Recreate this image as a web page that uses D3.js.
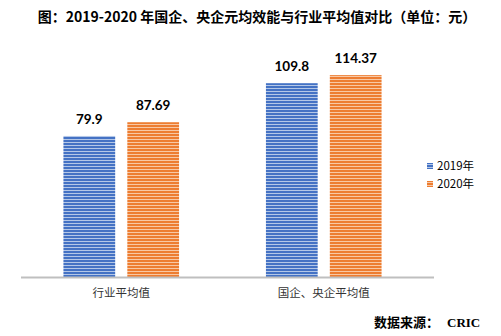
<!DOCTYPE html>
<html>
<head>
<meta charset="utf-8">
<script src="https://cdn.jsdelivr.net/npm/d3@7"></script>
<style>
  html, body { margin: 0; padding: 0; background: #fff; }
  svg { display: block; }
</style>
</head>
<body>
<svg id="chart" width="501" height="336"></svg>
<script>
// Chart data
const categories = ["行业平均值", "国企、央企平均值"];
const seriesNames = ["2019年", "2020年"];
const values2019 = [79.9, 109.8];
const values2020 = [87.69, 114.37];
const valueLabels2019 = ["79.9", "109.8"];
const valueLabels2020 = ["87.69", "114.37"];

const title = "图：2019-2020 年国企、央企元均效能与行业平均值对比（单位：元）";
const sourceLead = "数据来源：";
const sourceName = "CRIC";

const colors = {
  "2019年": { dark: "#4472c4", light: "#b4c7e7" },
  "2020年": { dark: "#ed7d31", light: "#f8c8a4" }
};

const svg = d3.select("#chart");
const defs = svg.append("defs");

// Horizontal striped fills for each series
seriesNames.forEach((s, i) => {
  const p = defs.append("pattern")
    .attr("id", "stripe" + i)
    .attr("patternUnits", "userSpaceOnUse")
    .attr("width", 6).attr("height", 3);
  p.append("rect").attr("width", 6).attr("height", 3).attr("fill", colors[s].dark);
  p.append("rect").attr("y", 1).attr("width", 6).attr("height", 1).attr("fill", colors[s].light);
});

const baseY = 277;
const y = d3.scaleLinear().domain([0, 120]).range([baseY, baseY - 120 * 1.765]);

const x0 = d3.scaleBand().domain(categories).range([20, 425]).paddingInner(0).paddingOuter(0);
const x1 = d3.scaleBand().domain(seriesNames).range([0, x0.bandwidth()]).paddingInner(0.19).paddingOuter(0.68);

const rows = categories.map((c, i) => ({
  cat: c,
  items: [
    { s: seriesNames[0], v: values2019[i], label: valueLabels2019[i] },
    { s: seriesNames[1], v: values2020[i], label: valueLabels2020[i] }
  ]
}));

// Title
svg.append("text")
  .attr("x", 257).attr("y", 22)
  .attr("text-anchor", "middle")
  .attr("font-family", "'Noto Sans CJK SC', sans-serif")
  .attr("font-weight", 700)
  .attr("font-size", 14)
  .attr("fill", "#000")
  .text(title);

// Bars
const g = svg.append("g");
const groups = g.selectAll("g.grp").data(rows).join("g")
  .attr("class", "grp")
  .attr("transform", d => `translate(${x0(d.cat)},0)`);

groups.selectAll("rect").data(d => d.items).join("rect")
  .attr("x", d => x1(d.s))
  .attr("width", x1.bandwidth())
  .attr("y", d => y(d.v))
  .attr("height", d => y(0) - y(d.v))
  .attr("fill", d => "url(#stripe" + seriesNames.indexOf(d.s) + ")");

groups.selectAll("text.val").data(d => d.items).join("text")
  .attr("class", "val")
  .attr("x", d => x1(d.s) + x1.bandwidth() / 2)
  .attr("y", d => y(d.v) - 12)
  .attr("text-anchor", "middle")
  .attr("font-family", "Lato, 'Open Sans', sans-serif")
  .attr("font-weight", 700)
  .attr("font-size", 13.5)
  .attr("fill", "#000")
  .text(d => d.label);

// Baseline axis
svg.append("line")
  .attr("x1", 21).attr("x2", 434)
  .attr("y1", baseY + 0.5).attr("y2", baseY + 0.5)
  .attr("stroke", "#bfbfbf").attr("stroke-width", 2);

// Category labels
svg.selectAll("text.cat").data(categories).join("text")
  .attr("class", "cat")
  .attr("x", d => x0(d) + x0.bandwidth() / 2)
  .attr("y", 297)
  .attr("text-anchor", "middle")
  .attr("font-family", "'Noto Sans CJK SC', sans-serif")
  .attr("font-size", 11.5)
  .attr("fill", "#333")
  .text(d => d);

// Legend
const legend = svg.append("g").attr("transform", "translate(427,160)");
seriesNames.forEach((s, i) => {
  const row = legend.append("g").attr("transform", `translate(0,${i * 18})`);
  row.append("rect").attr("width", 6).attr("height", 6).attr("y", 3)
    .attr("fill", "url(#stripe" + i + ")");
  row.append("text").attr("x", 10).attr("y", 10)
    .attr("font-family", "'Noto Sans CJK SC', sans-serif")
    .attr("font-size", 11.5)
    .attr("fill", "#000")
    .text(s);
});

// Source note
const src = svg.append("text")
  .attr("x", 374).attr("y", 327)
  .attr("font-weight", 700)
  .attr("font-size", 13)
  .attr("fill", "#000");
src.append("tspan")
  .attr("font-family", "'Noto Sans CJK SC', sans-serif")
  .text(sourceLead);
src.append("tspan")
  .attr("dx", 8)
  .attr("font-family", "'Liberation Serif', serif")
  .text(sourceName);
</script>
</body>
</html>
